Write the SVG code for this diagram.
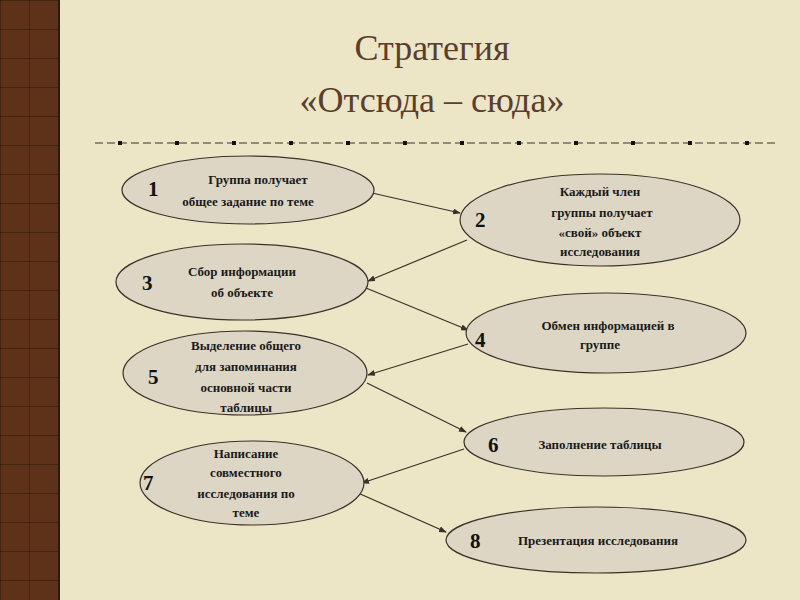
<svg xmlns="http://www.w3.org/2000/svg" width="800" height="600" viewBox="0 0 800 600">
<defs>
<style>
.e{fill:#ddd6c5;stroke:#3a3228;stroke-width:1.2}
.t{font-family:"Liberation Serif",serif;font-weight:bold;font-size:13px;fill:#1a1a1a;text-anchor:middle}
.n{font-family:"Liberation Serif",serif;font-weight:bold;font-size:21px;fill:#111}
.c{stroke:#3a3228;stroke-width:1.2;fill:none;marker-end:url(#a)}
</style>
<marker id="a" markerWidth="8" markerHeight="6" refX="7" refY="3" orient="auto" markerUnits="userSpaceOnUse"><path d="M0,0 L8,3 L0,6 z" fill="#3a3228"/></marker>
<pattern id="p" width="29" height="29" patternUnits="userSpaceOnUse"><rect width="29" height="29" fill="#5e3218"/><path d="M0,0H29M0,0V29" stroke="#2a1408" stroke-width="1"/></pattern>
</defs>
<rect width="800" height="600" fill="#ece5c6"/>
<rect x="0" y="0" width="58" height="600" fill="url(#p)"/>
<line x1="59" y1="0" x2="59" y2="600" stroke="#2a1a10" stroke-width="2"/>
<text x="432" y="60" font-family="Liberation Serif,serif" font-size="36" fill="#5a3e30" text-anchor="middle">Стратегия</text>
<text x="432" y="112" font-family="Liberation Serif,serif" font-size="36" fill="#5a3e30" text-anchor="middle">«Отсюда – сюда»</text>
<line x1="95" y1="143" x2="778" y2="143" stroke="#333" stroke-width="1" stroke-dasharray="8,4"/>
<g fill="#111">
<rect x="118" y="141" width="4" height="4"/><rect x="175" y="141" width="4" height="4"/><rect x="232" y="141" width="4" height="4"/><rect x="289" y="141" width="4" height="4"/><rect x="346" y="141" width="4" height="4"/><rect x="403" y="141" width="4" height="4"/><rect x="460" y="141" width="4" height="4"/><rect x="517" y="141" width="4" height="4"/><rect x="574" y="141" width="4" height="4"/><rect x="631" y="141" width="4" height="4"/><rect x="688" y="141" width="4" height="4"/><rect x="745" y="141" width="4" height="4"/>
</g>
<g id="connectors">
<line class="c" x1="372" y1="193" x2="460" y2="213"/>
<line class="c" x1="467" y1="240" x2="368" y2="281"/>
<line class="c" x1="366" y1="288" x2="468" y2="330"/>
<line class="c" x1="468" y1="344" x2="368" y2="375"/>
<line class="c" x1="367" y1="383" x2="466" y2="432"/>
<line class="c" x1="464" y1="449" x2="362" y2="483"/>
<line class="c" x1="358" y1="493" x2="446" y2="532"/>
</g>
<g id="n1"><ellipse class="e" cx="248" cy="190" rx="126" ry="34"/><text class="n" x="148" y="196">1</text><text class="t" x="258" y="184">Группа получает</text><text class="t" x="248" y="206">общее задание по теме</text></g>
<g id="n2"><ellipse class="e" cx="600" cy="220" rx="140" ry="46"/><text class="n" x="475" y="227">2</text><text class="t" x="600" y="196">Каждый член</text><text class="t" x="602" y="217">группы получает</text><text class="t" x="600" y="237">«свой» объект</text><text class="t" x="600" y="256">исследования</text></g>
<g id="n3"><ellipse class="e" cx="242" cy="282" rx="126" ry="38"/><text class="n" x="142" y="290">3</text><text class="t" x="242" y="276">Сбор информации</text><text class="t" x="242" y="297">об объекте</text></g>
<g id="n4"><ellipse class="e" cx="606" cy="333" rx="140" ry="40"/><text class="n" x="475" y="347">4</text><text class="t" x="608" y="330">Обмен информацией в</text><text class="t" x="600" y="349">группе</text></g>
<g id="n5"><ellipse class="e" cx="245" cy="373" rx="122" ry="42"/><text class="n" x="148" y="384">5</text><text class="t" x="246" y="350">Выделение общего</text><text class="t" x="246" y="371">для запоминания</text><text class="t" x="246" y="392">основной части</text><text class="t" x="246" y="412">таблицы</text></g>
<g id="n6"><ellipse class="e" cx="604" cy="442" rx="140" ry="34"/><text class="n" x="488" y="452">6</text><text class="t" x="600" y="449">Заполнение таблицы</text></g>
<g id="n7"><ellipse class="e" cx="252" cy="483" rx="112" ry="42"/><text class="n" x="143" y="490">7</text><text class="t" x="246" y="458">Написание</text><text class="t" x="246" y="477">совместного</text><text class="t" x="246" y="498">исследования по</text><text class="t" x="246" y="517">теме</text></g>
<g id="n8"><ellipse class="e" cx="596" cy="540" rx="150" ry="33"/><text class="n" x="470" y="548">8</text><text class="t" x="598" y="545">Презентация исследования</text></g>
</svg>
